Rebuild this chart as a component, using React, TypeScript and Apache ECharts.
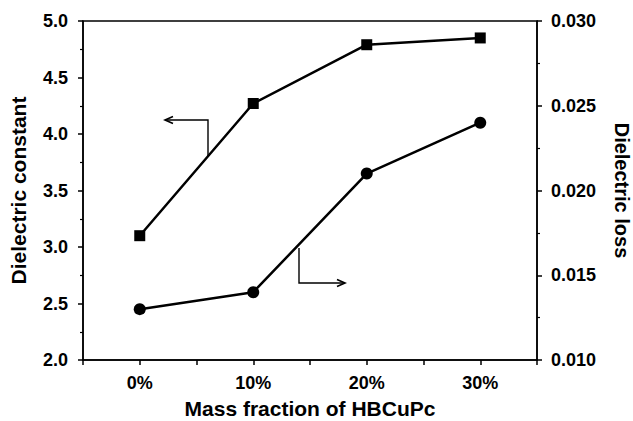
import React, { useEffect, useRef } from "react";
import * as echarts from "echarts";

const categories = ["0%", "10%", "20%", "30%"];
const dielectricConstant = [3.1, 4.27, 4.79, 4.85];
const dielectricLoss = [0.013, 0.014, 0.021, 0.024];
const leftTicks = { min: 2.0, max: 5.0, interval: 0.5 };
const rightTicks = { min: 0.01, max: 0.03, interval: 0.005 };

const FONT = "'Liberation Sans', Arial, Helvetica, sans-serif";

export default function App() {
  const ref = useRef<HTMLDivElement>(null);
  useEffect(() => {
    if (!ref.current) return;
    const chart = echarts.init(ref.current, undefined, { renderer: "svg" });
    const axisLine = { show: true, onZero: false, lineStyle: { color: "#000", width: 1.5 } };
    const labelStyle = { color: "#000", fontFamily: FONT, fontWeight: "bold" as const, fontSize: 18 };
    const nameStyle = { color: "#000", fontFamily: FONT, fontWeight: "bold" as const, fontSize: 21 };
    chart.setOption({
      animation: false,
      backgroundColor: "#fff",
      grid: {
        left: 83, right: 96, top: 21, bottom: 61,
        containLabel: false, outerBoundsMode: "none",
        show: true, borderColor: "#000", borderWidth: 1.5,
      },
      xAxis: {
        type: "value",
        min: -0.5,
        max: 3.5,
        interval: 0.5,
        name: "Mass fraction of HBCuPc",
        nameLocation: "middle",
        nameGap: 38,
        nameTextStyle: nameStyle,
        axisLine,
        axisTick: { show: true, inside: false, length: 5, lineStyle: { color: "#000", width: 1.5 } },
        axisLabel: {
          ...labelStyle,
          margin: 14,
          formatter: (v: number) => (Number.isInteger(v) && categories[v] !== undefined ? categories[v] : ""),
        },
        splitLine: { show: false },
      },
      yAxis: [
        {
          type: "value",
          position: "left",
          min: leftTicks.min,
          max: leftTicks.max,
          interval: leftTicks.interval,
          name: "Dielectric constant",
          nameLocation: "middle",
          nameGap: 54,
          nameRotate: 90,
          nameTextStyle: nameStyle,
          axisLine,
          axisTick: { show: true, length: 5, lineStyle: { color: "#000", width: 1.5 } },
          minorTick: { show: true, splitNumber: 2, length: 3, lineStyle: { color: "#000", width: 1.2 } },
          axisLabel: { ...labelStyle, margin: 15, formatter: (v: number) => v.toFixed(1) },
          splitLine: { show: false },
        },
        {
          type: "value",
          position: "right",
          min: rightTicks.min,
          max: rightTicks.max,
          interval: rightTicks.interval,
          name: "Dielectric loss",
          nameLocation: "middle",
          nameGap: 75,
          nameRotate: -90,
          nameTextStyle: { ...nameStyle, fontSize: 20 },
          axisLine,
          axisTick: { show: true, length: 5, lineStyle: { color: "#000", width: 1.5 } },
          minorTick: { show: true, splitNumber: 2, length: 3, lineStyle: { color: "#000", width: 1.2 } },
          axisLabel: { ...labelStyle, margin: 14, formatter: (v: number) => v.toFixed(3) },
          splitLine: { show: false },
        },
      ],
      series: [
        {
          type: "line",
          yAxisIndex: 0,
          data: dielectricConstant.map((v, i) => [i, v]),
          symbol: "rect",
          symbolSize: 11,
          showAllSymbol: true,
          itemStyle: { color: "#000" },
          lineStyle: { color: "#000", width: 2.5 },
        },
        {
          type: "line",
          yAxisIndex: 1,
          data: dielectricLoss.map((v, i) => [i, v]),
          symbol: "circle",
          symbolSize: 12,
          showAllSymbol: true,
          itemStyle: { color: "#000" },
          lineStyle: { color: "#000", width: 2.5 },
        },
      ],
      graphic: [
        { type: "polyline", shape: { points: [[208, 157], [208, 120], [166, 120]] }, style: { stroke: "#000", lineWidth: 1.4, fill: "none" } },
        { type: "polyline", shape: { points: [[173, 116.5], [165, 120], [173, 123.5]] }, style: { stroke: "#000", lineWidth: 1.6, fill: "none" } },
        { type: "polyline", shape: { points: [[299, 248], [299, 283], [344, 283]] }, style: { stroke: "#000", lineWidth: 1.4, fill: "none" } },
        { type: "polyline", shape: { points: [[337, 279.5], [345, 283], [337, 286.5]] }, style: { stroke: "#000", lineWidth: 1.6, fill: "none" } },
      ],
    });
    return () => chart.dispose();
  }, []);
  return <div ref={ref} style={{ position: "absolute", left: 0, top: 0, width: 633, height: 421 }} />;
}
